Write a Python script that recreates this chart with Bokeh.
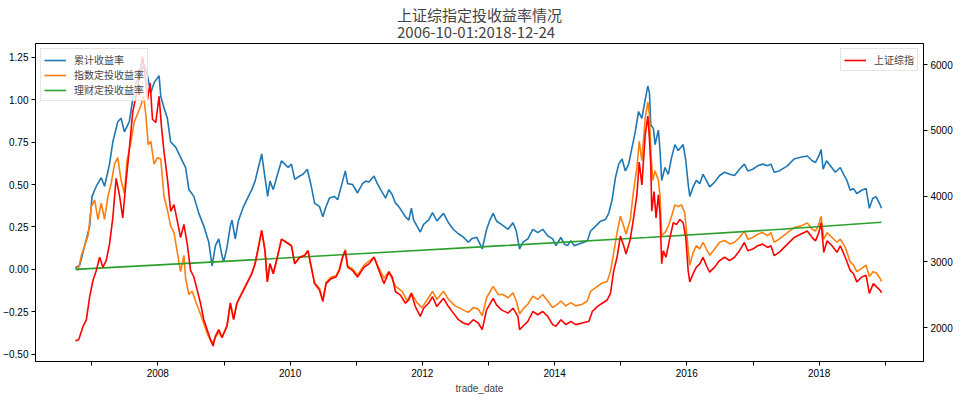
from datetime import datetime
from bokeh.plotting import figure
from bokeh.models import (Range1d, LinearAxis, FixedTicker, Legend, LegendItem, Title,
                          ColumnDataSource, DatetimeTickFormatter)
from bokeh.embed import file_html
from bokeh.resources import INLINE

# ---------------- data (decimal year, value) ----------------
CUM = [(2006.755, 0.01), (2006.82, 0.025), (2006.895, 0.14), (2006.97, 0.255), (2007.005, 0.43),
       (2007.07, 0.49), (2007.145, 0.54), (2007.195, 0.49), (2007.27, 0.62), (2007.32, 0.75),
       (2007.395, 0.87), (2007.445, 0.89), (2007.495, 0.81), (2007.57, 0.87), (2007.62, 1.0),
       (2007.67, 1.1), (2007.745, 1.16), (2007.795, 1.21), (2007.845, 1.14), (2007.895, 1.04),
       (2007.945, 1.10), (2008.02, 1.14), (2008.045, 1.02), (2008.095, 0.95), (2008.145, 0.89),
       (2008.195, 0.75), (2008.27, 0.72), (2008.345, 0.66), (2008.42, 0.60), (2008.47, 0.47),
       (2008.545, 0.43), (2008.62, 0.33), (2008.695, 0.255), (2008.77, 0.16), (2008.82, 0.02),
       (2008.87, 0.14), (2008.92, 0.18), (2008.97, 0.08), (2008.995, 0.044), (2009.045, 0.13),
       (2009.095, 0.255), (2009.12, 0.29), (2009.17, 0.18), (2009.22, 0.29), (2009.295, 0.37),
       (2009.37, 0.43), (2009.42, 0.47), (2009.47, 0.52), (2009.52, 0.60), (2009.57, 0.68),
       (2009.62, 0.54), (2009.66, 0.43), (2009.695, 0.52), (2009.745, 0.47), (2009.795, 0.54),
       (2009.87, 0.64), (2009.92, 0.62), (2009.97, 0.60), (2010.02, 0.62), (2010.07, 0.53),
       (2010.145, 0.55), (2010.195, 0.56), (2010.26, 0.59), (2010.32, 0.49), (2010.37, 0.39),
       (2010.445, 0.37), (2010.495, 0.31), (2010.545, 0.37), (2010.595, 0.42), (2010.67, 0.43),
       (2010.72, 0.41), (2010.795, 0.52), (2010.835, 0.58), (2010.87, 0.505), (2010.945, 0.50),
       (2011.02, 0.45), (2011.095, 0.505), (2011.145, 0.52), (2011.195, 0.515), (2011.27, 0.55),
       (2011.32, 0.505), (2011.37, 0.47), (2011.445, 0.42), (2011.495, 0.47), (2011.545, 0.44),
       (2011.595, 0.39), (2011.645, 0.37), (2011.695, 0.34), (2011.745, 0.31), (2011.795, 0.29),
       (2011.835, 0.36), (2011.87, 0.29), (2011.92, 0.255), (2011.97, 0.22), (2012.02, 0.265),
       (2012.095, 0.29), (2012.155, 0.335), (2012.22, 0.285), (2012.32, 0.33), (2012.395, 0.275),
       (2012.47, 0.235), (2012.545, 0.21), (2012.62, 0.19), (2012.695, 0.16), (2012.745, 0.18),
       (2012.82, 0.19), (2012.87, 0.15), (2012.905, 0.12), (2012.97, 0.235), (2013.02, 0.29),
       (2013.07, 0.33), (2013.12, 0.285), (2013.195, 0.265), (2013.295, 0.236), (2013.37, 0.275),
       (2013.42, 0.226), (2013.47, 0.12), (2013.52, 0.16), (2013.595, 0.18), (2013.67, 0.236),
       (2013.745, 0.217), (2013.82, 0.236), (2013.895, 0.198), (2013.97, 0.18), (2014.02, 0.14),
       (2014.095, 0.188), (2014.145, 0.15), (2014.195, 0.14), (2014.245, 0.169), (2014.295, 0.14),
       (2014.37, 0.15), (2014.445, 0.16), (2014.495, 0.169), (2014.545, 0.226), (2014.62, 0.255),
       (2014.695, 0.284), (2014.77, 0.294), (2014.82, 0.332), (2014.87, 0.41), (2014.92, 0.54),
       (2014.97, 0.62), (2015.02, 0.65), (2015.07, 0.58), (2015.12, 0.62), (2015.17, 0.716),
       (2015.22, 0.81), (2015.27, 0.93), (2015.32, 0.89), (2015.37, 1.0), (2015.41, 1.08),
       (2015.435, 1.04), (2015.455, 0.85), (2015.495, 0.83), (2015.52, 0.735), (2015.57, 0.82),
       (2015.595, 0.70), (2015.62, 0.524), (2015.67, 0.60), (2015.72, 0.56), (2015.77, 0.66),
       (2015.82, 0.735), (2015.87, 0.70), (2015.945, 0.735), (2015.985, 0.64), (2016.02, 0.505),
       (2016.045, 0.43), (2016.095, 0.486), (2016.145, 0.524), (2016.195, 0.505), (2016.245, 0.56),
       (2016.295, 0.524), (2016.345, 0.486), (2016.42, 0.514), (2016.495, 0.553), (2016.57, 0.572),
       (2016.645, 0.56), (2016.72, 0.553), (2016.795, 0.59), (2016.87, 0.62), (2016.92, 0.58),
       (2016.995, 0.59), (2017.07, 0.61), (2017.145, 0.62), (2017.22, 0.61), (2017.27, 0.62),
       (2017.32, 0.572), (2017.395, 0.58), (2017.52, 0.61), (2017.62, 0.65), (2017.72, 0.66),
       (2017.82, 0.668), (2017.895, 0.64), (2017.945, 0.63), (2017.995, 0.668), (2018.03, 0.706),
       (2018.06, 0.59), (2018.11, 0.64), (2018.17, 0.61), (2018.245, 0.572), (2018.32, 0.60),
       (2018.37, 0.56), (2018.42, 0.524), (2018.47, 0.466), (2018.52, 0.476), (2018.57, 0.447),
       (2018.645, 0.466), (2018.71, 0.476), (2018.76, 0.36), (2018.81, 0.418), (2018.86, 0.428),
       (2018.91, 0.39), (2018.945, 0.36)]

IDX = [(2006.755, 0.006), (2006.795, -0.004), (2006.845, 0.083), (2006.895, 0.14), (2006.945, 0.198),
       (2006.995, 0.37), (2007.045, 0.41), (2007.095, 0.294), (2007.145, 0.39), (2007.195, 0.294),
       (2007.245, 0.428), (2007.295, 0.505), (2007.345, 0.62), (2007.395, 0.658), (2007.445, 0.524),
       (2007.495, 0.447), (2007.535, 0.64), (2007.595, 0.754), (2007.645, 0.87), (2007.695, 0.917),
       (2007.745, 0.965), (2007.785, 1.023), (2007.82, 0.908), (2007.855, 0.735), (2007.895, 0.754),
       (2007.945, 0.62), (2007.995, 0.658), (2008.045, 0.65), (2008.095, 0.428), (2008.145, 0.351),
       (2008.195, 0.255), (2008.245, 0.217), (2008.295, 0.10), (2008.345, -0.013), (2008.395, 0.083),
       (2008.42, -0.052), (2008.47, -0.148), (2008.52, -0.129), (2008.57, -0.186), (2008.645, -0.263),
       (2008.695, -0.32), (2008.745, -0.378), (2008.82, -0.436), (2008.87, -0.40), (2008.92, -0.37),
       (2008.97, -0.397), (2009.045, -0.33), (2009.095, -0.196), (2009.145, -0.292), (2009.195, -0.196),
       (2009.27, -0.138), (2009.345, -0.081), (2009.42, -0.023), (2009.47, 0.035), (2009.52, 0.13),
       (2009.57, 0.23), (2009.62, 0.111), (2009.655, -0.071), (2009.695, 0.035), (2009.745, -0.023),
       (2009.795, 0.054), (2009.87, 0.178), (2009.945, 0.16), (2010.02, 0.14), (2010.07, 0.035),
       (2010.145, 0.073), (2010.22, 0.083), (2010.27, 0.111), (2010.32, 0.015), (2010.37, -0.077),
       (2010.445, -0.113), (2010.495, -0.18), (2010.545, -0.075), (2010.62, -0.046), (2010.695, -0.036),
       (2010.745, 0.002), (2010.795, 0.079), (2010.835, 0.117), (2010.87, 0.021), (2010.945, 0.002),
       (2011.02, -0.033), (2011.12, 0.025), (2011.27, 0.073), (2011.345, 0.006), (2011.42, -0.052),
       (2011.495, -0.013), (2011.595, -0.10), (2011.695, -0.13), (2011.77, -0.186), (2011.835, -0.138),
       (2011.92, -0.196), (2011.995, -0.225), (2012.095, -0.167), (2012.155, -0.129), (2012.22, -0.177),
       (2012.32, -0.129), (2012.395, -0.177), (2012.495, -0.215), (2012.595, -0.234), (2012.695, -0.253),
       (2012.77, -0.225), (2012.845, -0.234), (2012.905, -0.273), (2012.97, -0.167), (2013.07, -0.10),
       (2013.145, -0.148), (2013.22, -0.148), (2013.295, -0.167), (2013.37, -0.138), (2013.42, -0.186),
       (2013.47, -0.263), (2013.52, -0.234), (2013.595, -0.205), (2013.67, -0.157), (2013.745, -0.177),
       (2013.82, -0.148), (2013.895, -0.186), (2013.97, -0.225), (2014.045, -0.205), (2014.095, -0.186),
       (2014.17, -0.215), (2014.245, -0.196), (2014.32, -0.215), (2014.42, -0.205), (2014.495, -0.186),
       (2014.545, -0.129), (2014.645, -0.10), (2014.72, -0.08), (2014.795, -0.071), (2014.845, -0.013),
       (2014.895, 0.10), (2014.945, 0.217), (2014.995, 0.313), (2015.045, 0.255), (2015.08, 0.207),
       (2015.145, 0.294), (2015.195, 0.466), (2015.245, 0.60), (2015.28, 0.754), (2015.32, 0.64),
       (2015.37, 0.889), (2015.41, 0.985), (2015.435, 0.91), (2015.455, 0.70), (2015.485, 0.524),
       (2015.52, 0.58), (2015.57, 0.524), (2015.595, 0.43), (2015.62, 0.198), (2015.67, 0.217),
       (2015.72, 0.255), (2015.77, 0.313), (2015.82, 0.38), (2015.87, 0.37), (2015.92, 0.38),
       (2015.97, 0.332), (2016.02, 0.12), (2016.045, 0.025), (2016.095, 0.10), (2016.145, 0.14),
       (2016.195, 0.12), (2016.245, 0.16), (2016.295, 0.12), (2016.345, 0.083), (2016.42, 0.12),
       (2016.495, 0.16), (2016.57, 0.17), (2016.645, 0.15), (2016.72, 0.16), (2016.795, 0.188),
       (2016.87, 0.226), (2016.92, 0.178), (2016.995, 0.188), (2017.07, 0.207), (2017.145, 0.217),
       (2017.22, 0.198), (2017.27, 0.217), (2017.32, 0.16), (2017.395, 0.178), (2017.52, 0.217),
       (2017.62, 0.246), (2017.72, 0.255), (2017.82, 0.274), (2017.895, 0.236), (2017.945, 0.226),
       (2017.995, 0.265), (2018.03, 0.313), (2018.07, 0.178), (2018.12, 0.217), (2018.195, 0.188),
       (2018.27, 0.16), (2018.32, 0.178), (2018.395, 0.13), (2018.47, 0.044), (2018.52, 0.025),
       (2018.57, -0.013), (2018.645, 0.006), (2018.71, 0.025), (2018.76, -0.042), (2018.82, -0.013),
       (2018.87, -0.023), (2018.92, -0.052), (2018.945, -0.071)]

FIN = [(2006.755, 0.0), (2008.87, 0.044), (2011.045, 0.092), (2013.22, 0.14),
       (2015.395, 0.188), (2017.42, 0.236), (2018.945, 0.278)]

SSE = [(2006.755, 1795), (2006.805, 1820), (2006.87, 2020), (2006.92, 2120), (2006.97, 2470),
       (2007.02, 2720), (2007.07, 2870), (2007.12, 3070), (2007.17, 2920), (2007.22, 3020),
       (2007.27, 3270), (2007.32, 3670), (2007.37, 4270), (2007.42, 4020), (2007.47, 3670),
       (2007.52, 4220), (2007.57, 4720), (2007.62, 5270), (2007.67, 5520), (2007.72, 5820),
       (2007.77, 6120), (2007.805, 5870), (2007.845, 5470), (2007.885, 5720), (2007.92, 5170),
       (2007.97, 5120), (2008.02, 5520), (2008.055, 5070), (2008.095, 4670), (2008.145, 4270),
       (2008.195, 3770), (2008.245, 3870), (2008.295, 3620), (2008.345, 3370), (2008.395, 3570),
       (2008.445, 3270), (2008.495, 2870), (2008.545, 2770), (2008.595, 2570), (2008.645, 2370),
       (2008.695, 2120), (2008.745, 1970), (2008.795, 1820), (2008.835, 1720), (2008.87, 1870),
       (2008.92, 1970), (2008.97, 1845), (2009.045, 2020), (2009.095, 2370), (2009.145, 2120),
       (2009.195, 2370), (2009.27, 2520), (2009.345, 2670), (2009.42, 2820), (2009.47, 2970),
       (2009.52, 3220), (2009.57, 3480), (2009.62, 3170), (2009.655, 2695), (2009.695, 2970),
       (2009.745, 2820), (2009.795, 3020), (2009.87, 3345), (2009.945, 3295), (2010.02, 3245),
       (2010.07, 2970), (2010.145, 3070), (2010.22, 3095), (2010.27, 3170), (2010.32, 2920),
       (2010.37, 2670), (2010.445, 2570), (2010.495, 2395), (2010.545, 2670), (2010.62, 2745),
       (2010.695, 2770), (2010.745, 2870), (2010.795, 3070), (2010.835, 3170), (2010.87, 2920),
       (2010.945, 2870), (2011.02, 2770), (2011.12, 2920), (2011.195, 2970), (2011.27, 3070),
       (2011.345, 2870), (2011.42, 2670), (2011.495, 2845), (2011.545, 2770), (2011.595, 2545),
       (2011.67, 2495), (2011.745, 2370), (2011.795, 2420), (2011.835, 2520), (2011.895, 2320),
       (2011.97, 2170), (2012.02, 2295), (2012.095, 2370), (2012.155, 2470), (2012.22, 2320),
       (2012.32, 2445), (2012.395, 2320), (2012.47, 2220), (2012.545, 2120), (2012.62, 2070),
       (2012.695, 2045), (2012.77, 2120), (2012.845, 2070), (2012.905, 1970), (2012.97, 2270),
       (2013.07, 2445), (2013.12, 2345), (2013.195, 2270), (2013.295, 2220), (2013.37, 2295),
       (2013.445, 2170), (2013.47, 1970), (2013.52, 2020), (2013.595, 2095), (2013.67, 2245),
       (2013.745, 2195), (2013.82, 2245), (2013.895, 2170), (2013.97, 2045), (2014.02, 2020),
       (2014.095, 2120), (2014.17, 2045), (2014.245, 2095), (2014.32, 2045), (2014.42, 2070),
       (2014.52, 2095), (2014.57, 2245), (2014.645, 2320), (2014.72, 2370), (2014.795, 2420),
       (2014.845, 2520), (2014.895, 2870), (2014.945, 3070), (2014.995, 3395), (2015.045, 3245),
       (2015.08, 3120), (2015.145, 3345), (2015.195, 3670), (2015.245, 4020), (2015.28, 4520),
       (2015.32, 4170), (2015.37, 4920), (2015.41, 5220), (2015.435, 4870), (2015.455, 4470),
       (2015.47, 3770), (2015.505, 4070), (2015.535, 3670), (2015.57, 4020), (2015.595, 3720),
       (2015.62, 2970), (2015.645, 3170), (2015.685, 3070), (2015.745, 3370), (2015.795, 3595),
       (2015.845, 3570), (2015.895, 3645), (2015.945, 3595), (2015.985, 3370), (2016.02, 2870),
       (2016.045, 2695), (2016.095, 2820), (2016.145, 2920), (2016.195, 2970), (2016.245, 3070),
       (2016.295, 2945), (2016.345, 2845), (2016.42, 2920), (2016.495, 3020), (2016.57, 3070),
       (2016.645, 3020), (2016.72, 3070), (2016.795, 3170), (2016.87, 3295), (2016.92, 3170),
       (2016.995, 3195), (2017.07, 3245), (2017.145, 3270), (2017.22, 3220), (2017.27, 3245),
       (2017.32, 3095), (2017.395, 3145), (2017.52, 3270), (2017.62, 3370), (2017.72, 3420),
       (2017.82, 3470), (2017.895, 3370), (2017.945, 3320), (2017.995, 3445), (2018.03, 3595),
       (2018.07, 3145), (2018.12, 3320), (2018.195, 3245), (2018.27, 3145), (2018.32, 3245),
       (2018.395, 3070), (2018.47, 2870), (2018.52, 2820), (2018.57, 2695), (2018.645, 2770),
       (2018.71, 2795), (2018.76, 2520), (2018.82, 2670), (2018.87, 2620), (2018.92, 2570),
       (2018.945, 2530)]

LEFT_TICKS = [-0.5, -0.25, 0.0, 0.25, 0.5, 0.75, 1.0, 1.25]
RIGHT_TICKS = [2000, 3000, 4000, 5000, 6000]
MAJOR_YEARS = [2008, 2010, 2012, 2014, 2016, 2018]
MINOR_YEARS = [2007, 2009, 2011, 2013, 2015, 2017, 2019]
TITLE = "上证综指定投收益率情况"
SUBTITLE = "2006-10-01:2018-12-24"

# ---------------- helpers ----------------
EPOCH = datetime(1970, 1, 1)


def dec_to_dt(t):
    y = int(t)
    start = datetime(y, 1, 1)
    end = datetime(y + 1, 1, 1)
    return start + (end - start) * (t - y)


def ms(dt):
    return (dt - EPOCH).total_seconds() * 1000.0


def src(pairs):
    return ColumnDataSource(dict(x=[dec_to_dt(t) for t, _ in pairs], y=[v for _, v in pairs]))


CJK = "Noto Sans CJK SC"
LAT = "Liberation Sans"
X0, X1 = 2006.150, 2019.579

p = figure(frame_width=888, frame_height=318, x_axis_type="datetime", output_backend="svg",
           toolbar_location=None, title=None,
           x_range=Range1d(dec_to_dt(X0), dec_to_dt(X1)),
           y_range=Range1d(-0.5425, 1.3305),
           min_border=0, min_border_left=31)
p.extra_y_ranges = {"sse": Range1d(1484, 6323)}

p.xgrid.visible = False
p.ygrid.visible = False
p.outline_line_color = "black"
p.outline_line_width = 1
p.background_fill_color = "white"
p.border_fill_color = "white"

r_cum = p.line("x", "y", source=src(CUM), color="#1f77b4", line_width=1.6)
r_idx = p.line("x", "y", source=src(IDX), color="#ff7f0e", line_width=1.6)
r_fin = p.line("x", "y", source=src(FIN), color="#2ca02c", line_width=1.6)
r_sse = p.line("x", "y", source=src(SSE), color="red", line_width=1.6, y_range_name="sse",
               level="overlay")

# x axis
xa = p.xaxis[0]
xa.ticker = FixedTicker(ticks=[ms(datetime(y, 1, 1)) for y in MAJOR_YEARS],
                        minor_ticks=[ms(datetime(y, 1, 1)) for y in MINOR_YEARS])
xa.formatter = DatetimeTickFormatter(years="%Y", months="%Y", days="%Y", hours="%Y",
                                     minutes="%Y", seconds="%Y", milliseconds="%Y",
                                     microseconds="%Y")
xa.axis_label = "trade_date"

# left axis
ya = p.yaxis[0]
ya.ticker = FixedTicker(ticks=LEFT_TICKS)
ya.major_label_overrides = {t: ("−%.2f" % abs(t) if t < 0 else "%.2f" % t) for t in LEFT_TICKS}

# right axis
ra = LinearAxis(y_range_name="sse", ticker=FixedTicker(ticks=RIGHT_TICKS))
p.add_layout(ra, "right")

for ax in [xa, ya, ra]:
    ax.axis_line_color = "black"
    ax.major_tick_line_color = "black"
    ax.minor_tick_line_color = "black"
    ax.major_tick_in = 0
    ax.major_tick_out = 4
    ax.minor_tick_in = 0
    ax.minor_tick_out = 4
    ax.major_label_text_font = LAT
    ax.major_label_text_font_size = "10px"
    ax.major_label_text_color = "black"
    ax.major_label_standoff = 3
    ax.axis_label_text_font = LAT
    ax.axis_label_text_font_size = "10px"
    ax.axis_label_text_font_style = "normal"
    ax.axis_label_standoff = 3
for ax in [ya, ra]:
    ax.minor_tick_line_color = None

# two-line title
p.add_layout(Title(text=TITLE + "\n" + SUBTITLE, align="center", text_font=CJK,
                   text_font_size="15px", text_font_style="normal", text_line_height=0.8,
                   standoff=3, offset=0), "above")

# legends
common = dict(label_text_font=CJK, label_text_font_size="10px", glyph_width=22, glyph_height=12,
              label_height=12, label_standoff=8, spacing=0, padding=3, margin=5,
              border_line_color="#cccccc", border_line_width=1, background_fill_alpha=0.8)
leg_left = Legend(items=[LegendItem(label="累计收益率", renderers=[r_cum]),
                         LegendItem(label="指数定投收益率", renderers=[r_idx]),
                         LegendItem(label="理财定投收益率", renderers=[r_fin])],
                  location="top_left", **common)
leg_right = Legend(items=[LegendItem(label="上证综指", renderers=[r_sse])],
                   location="top_right", **common)
p.add_layout(leg_left, "center")
p.add_layout(leg_right, "center")

open("out.html", "w").write(file_html(p, INLINE))
